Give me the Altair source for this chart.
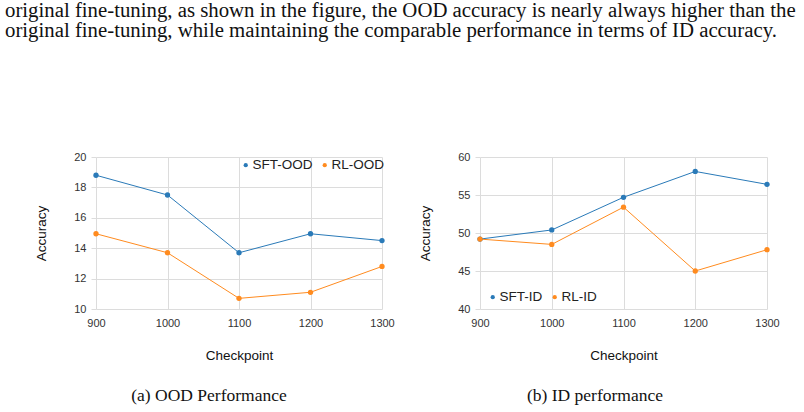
import altair as alt
import pandas as pd

# ---- data ----
checkpoints = [900, 1000, 1100, 1200, 1300]
sft_ood = [18.8, 17.5, 13.7, 14.95, 14.5]
rl_ood = [14.95, 13.7, 10.7, 11.1, 12.8]
sft_id = [49.2, 50.4, 54.7, 58.1, 56.4]
rl_id = [49.2, 48.5, 53.4, 45.0, 47.8]
ood_names = ["SFT-OOD", "RL-OOD"]
id_names = ["SFT-ID", "RL-ID"]
x_ticks = [900, 1000, 1100, 1200, 1300]
ood_ticks = [10, 12, 14, 16, 18, 20]
id_ticks = [40, 45, 50, 55, 60]
paragraph = [
    "original fine-tuning, as shown in the figure, the OOD accuracy is nearly always higher than the",
    "original fine-tuning, while maintaining the comparable performance in terms of ID accuracy.",
]
captions = ["(a) OOD Performance", "(b) ID performance"]

BLUE = "#2a7ab8"
ORANGE = "#ff8b1f"
GRID = "#dcdcdc"
SANS = "Liberation Sans"
SERIF = "Liberation Serif"


def panel(sft, rl, names, yticks, width, legend_x, legend_y, caption, caption_x, extra=None):
    df = pd.DataFrame({
        "Checkpoint": checkpoints * 2,
        "Accuracy": sft + rl,
        "Series": [names[0]] * len(sft) + [names[1]] * len(rl),
    })
    x = alt.X("Checkpoint:Q",
              scale=alt.Scale(domain=[x_ticks[0], x_ticks[-1]], nice=False, zero=False),
              axis=alt.Axis(values=x_ticks, format="d", title="Checkpoint", ticks=False,
                            labelFlush=False, labelPadding=8, titlePadding=20))
    y = alt.Y("Accuracy:Q",
              scale=alt.Scale(domain=[yticks[0], yticks[-1]], nice=False, zero=False),
              axis=alt.Axis(values=yticks, title="Accuracy", ticks=True, tickSize=5,
                            labelFlush=False, tickColor=GRID, labelPadding=5, titlePadding=25))
    color = alt.Color("Series:N",
                      scale=alt.Scale(domain=names, range=[BLUE, ORANGE]),
                      legend=alt.Legend(orient="none", legendX=legend_x, legendY=legend_y,
                                        direction="horizontal", title=None,
                                        symbolType="circle", symbolSize=18,
                                        labelFont=SANS, labelFontSize=13.5, labelColor="#222",
                                        labelOffset=0, columnPadding=5, symbolStrokeWidth=0))
    base = alt.Chart(df)
    lines = base.mark_line(strokeWidth=1).encode(x=x, y=y, color=color)
    pts = base.mark_circle(size=28, opacity=1).encode(x=x, y=y, color=color)
    one = alt.Chart(pd.DataFrame({"k": [0]}))
    cap = one.mark_text(text=caption, font=SERIF, fontSize=17.5, align="center",
                        baseline="alphabetic", color="#111").encode(
        x=alt.value(caption_x), y=alt.value(244))
    layers = []
    if extra is not None:
        layers.extend(extra)
    layers.extend([lines, pts, cap])
    return alt.layer(*layers).properties(width=width, height=152)


one = alt.Chart(pd.DataFrame({"k": [0]}))
bg = one.mark_rect(fill="white", opacity=0).encode(
    x=alt.value(-96), x2=alt.value(708), y=alt.value(-157), y2=alt.value(255))
para = one.mark_text(text=paragraph, font=SERIF, fontSize=20.8, align="left",
                     baseline="alphabetic", lineHeight=20, color="#111").encode(
    x=alt.value(-91), y=alt.value(-140))

left = panel(sft_ood, rl_ood, ood_names, ood_ticks, 286, 143, 1, captions[0], 113, extra=[bg, para])
right = panel(sft_id, rl_id, id_names, id_ticks, 287, 6, 133, captions[1], 115)

chart = alt.hconcat(left, right, spacing=98, bounds="flush").resolve_scale(
    color="independent").resolve_legend(color="independent").properties(
    padding=0, background="white"
).configure_view(stroke=None).configure_axis(
    grid=True, gridColor=GRID, gridWidth=1, domain=False,
    labelFont=SANS, labelFontSize=11, labelColor="#333",
    titleFont=SANS, titleFontSize=13.5, titleFontWeight="normal", titleColor="#111",
)

chart.save("out.html", embed_options={"renderer": "svg", "actions": False})
